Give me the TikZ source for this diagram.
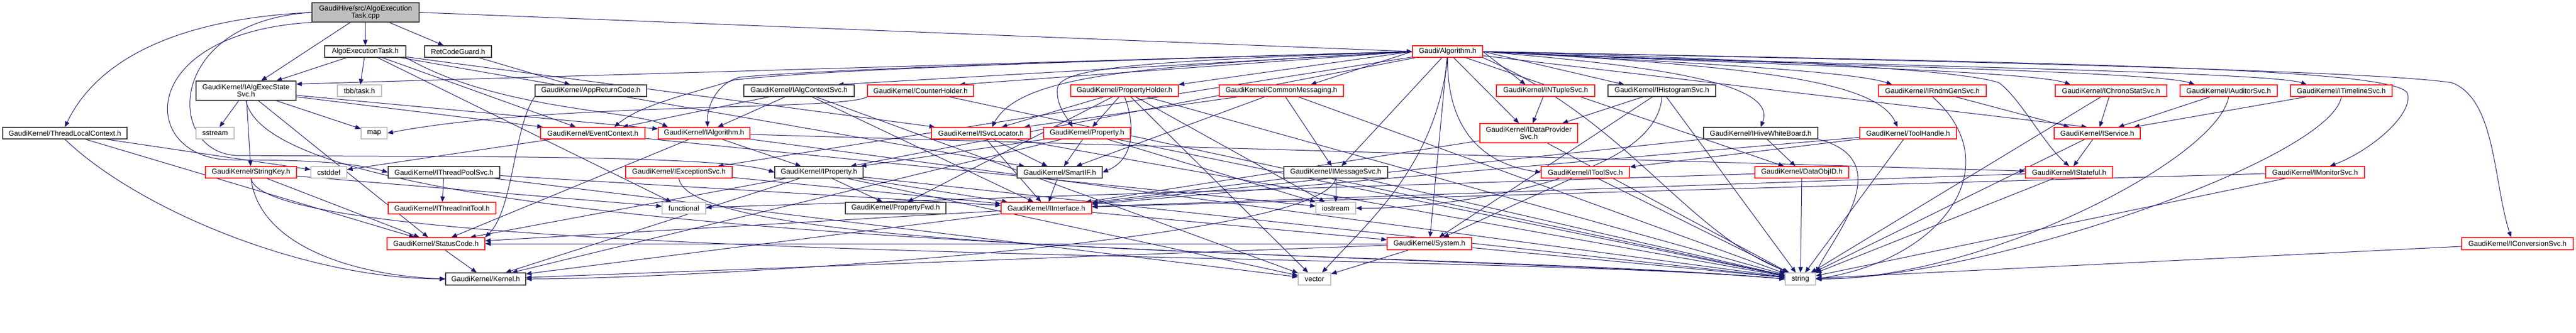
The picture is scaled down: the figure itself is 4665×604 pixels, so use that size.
\documentclass[tikz,border=0pt]{standalone}
\usepackage{fontspec}
\setmainfont{Liberation Sans}
\usetikzlibrary{arrows.meta}
\definecolor{edgec}{HTML}{191970}
\definecolor{nodegray}{HTML}{BFBFBF}
\definecolor{nodeblk}{HTML}{404040}
\definecolor{nodered}{HTML}{FF2020}
\pgfdeclarelayer{bg}
\pgfsetlayers{bg,main}
\tikzset{
  base/.style={rectangle, inner sep=0pt, line width=1.2pt, fill=white, text=black,
    font=\fontsize{13}{13}\selectfont, align=center},
  nb/.style={base, draw=nodeblk},
  nr/.style={base, draw=nodered},
  ng/.style={base, draw=nodegray},
  nroot/.style={base, draw=nodeblk, fill=nodegray},
  edg/.style={draw=edgec, line width=1pt, -{Triangle[length=10pt,width=8pt]}},
}
\newcommand\gbox[7]{\node[#2, minimum width={#4pt-#3pt}, minimum height=#6pt] (#1) at ({(#3+#4)/2}, -#5) {#7};}
\begin{document}
\begin{tikzpicture}[x=1pt,y=1pt]
\useasboundingbox (0,0) rectangle (4665,-604);
% row 0/1
\gbox{root}{nroot}{565}{759}{22.5}{35}{GaudiHive/src/AlgoExecution\\Task.cpp}
\gbox{aeth}{nb}{588}{735}{93.5}{21}{AlgoExecutionTask.h}
\gbox{rcg}{nb}{769}{890}{93.5}{21}{RetCodeGuard.h}
\gbox{galg}{nr}{2558}{2685}{93.5}{21}{Gaudi/Algorithm.h}
% row 2
\gbox{iaess}{nb}{355}{536}{164.5}{35}{GaudiKernel/IAlgExecState\\Svc.h}
\gbox{tbb}{ng}{611}{691}{164.5}{21}{tbb/task.h}
\gbox{arc}{nb}{969}{1171}{164.5}{21}{GaudiKernel/AppReturnCode.h}
\gbox{iacs}{nb}{1347}{1547}{164.5}{21}{GaudiKernel/IAlgContextSvc.h}
\gbox{ch}{nr}{1571}{1763}{164.5}{21}{GaudiKernel/CounterHolder.h}
\gbox{ph}{nr}{1939}{2134}{164.5}{21}{GaudiKernel/PropertyHolder.h}
\gbox{cm}{nr}{2208}{2433}{164.5}{21}{GaudiKernel/CommonMessaging.h}
\gbox{ints}{nr}{2710}{2888}{164.5}{21}{GaudiKernel/INTupleSvc.h}
\gbox{ihs}{nb}{2912}{3107}{164.5}{21}{GaudiKernel/IHistogramSvc.h}
\gbox{irg}{nr}{3402}{3597}{164.5}{21}{GaudiKernel/IRndmGenSvc.h}
\gbox{ics}{nr}{3722}{3924}{164.5}{21}{GaudiKernel/IChronoStatSvc.h}
\gbox{ias}{nr}{3948}{4124}{164.5}{21}{GaudiKernel/IAuditorSvc.h}
\gbox{its}{nr}{4148}{4332}{164.5}{21}{GaudiKernel/ITimelineSvc.h}
% row 3
\gbox{tlc}{nb}{5}{230}{241.5}{21}{GaudiKernel/ThreadLocalContext.h}
\gbox{sstr}{ng}{355}{424}{241.5}{21}{sstream}
\gbox{map}{ng}{654}{701}{241.5}{21}{map}
\gbox{ec}{nr}{979}{1168}{241.5}{21}{GaudiKernel/EventContext.h}
\gbox{ialg}{nr}{1192}{1358}{241.5}{21}{GaudiKernel/IAlgorithm.h}
\gbox{isl}{nr}{1687}{1866}{241.5}{21}{GaudiKernel/ISvcLocator.h}
\gbox{prop}{nr}{1890}{2047}{241.5}{21}{GaudiKernel/Property.h}
\gbox{idps}{nr}{2680}{2857}{241.5}{35}{GaudiKernel/IDataProvider\\Svc.h}
\gbox{ihwb}{nb}{3085}{3292}{241.5}{21}{GaudiKernel/IHiveWhiteBoard.h}
\gbox{th}{nr}{3368}{3543}{241.5}{21}{GaudiKernel/ToolHandle.h}
\gbox{isv}{nr}{3720}{3876}{241.5}{21}{GaudiKernel/IService.h}
% row 4
\gbox{sk}{nr}{372}{537}{312.5}{21}{GaudiKernel/StringKey.h}
\gbox{cstd}{ng}{563}{628}{312.5}{21}{cstddef}
\gbox{itps}{nb}{703}{905}{312.5}{21}{GaudiKernel/IThreadPoolSvc.h}
\gbox{iexs}{nr}{1133}{1326}{312.5}{21}{GaudiKernel/IExceptionSvc.h}
\gbox{iprop}{nb}{1403}{1563}{312.5}{21}{GaudiKernel/IProperty.h}
\gbox{sif}{nb}{1842}{1996}{312.5}{21}{GaudiKernel/SmartIF.h}
\gbox{ims}{nb}{2325}{2513}{312.5}{21}{GaudiKernel/IMessageSvc.h}
\gbox{itsv}{nr}{2791}{2951}{312.5}{21}{GaudiKernel/IToolSvc.h}
\gbox{doid}{nr}{3178}{3348}{312.5}{21}{GaudiKernel/DataObjID.h}
\gbox{istf}{nr}{3668}{3826}{312.5}{21}{GaudiKernel/IStateful.h}
\gbox{imon}{nr}{4103}{4282}{312.5}{21}{GaudiKernel/IMonitorSvc.h}
% row 5
\gbox{itit}{nr}{703}{898}{377.5}{21}{GaudiKernel/IThreadInitTool.h}
\gbox{func}{ng}{1199}{1278}{377.5}{21}{functional}
\gbox{pfwd}{nb}{1531}{1713}{377.5}{21}{GaudiKernel/PropertyFwd.h}
\gbox{iif}{nr}{1813}{1977}{377.5}{21}{GaudiKernel/IInterface.h}
\gbox{iostr}{ng}{2383}{2455}{377.5}{21}{iostream}
% row 6
\gbox{sc}{nr}{701}{878}{442}{22}{GaudiKernel/StatusCode.h}
\gbox{sys}{nr}{2512}{2665}{442}{22}{GaudiKernel/System.h}
\gbox{icnv}{nr}{4458}{4660}{442}{22}{GaudiKernel/IConversionSvc.h}
% row 7
\gbox{kern}{nb}{807}{952}{506}{22}{GaudiKernel/Kernel.h}
\gbox{vec}{ng}{2351}{2410}{506}{22}{vector}
\gbox{str}{ng}{3233}{3288}{506}{22}{string}

\begin{pgfonlayer}{bg}
\fill[white] (0,0) rectangle (4665,-604);
% root
\draw[edg] (root) -- (aeth);
\draw[edg] (root) -- (rcg);
\draw[edg] (root.east) -- (galg.west);
\draw[edg] (root) -- (iaess);
\draw[edg] (root.west) .. controls (300,-35) and (170,-120) .. (tlc.north);
\draw[edg] (root.south west) .. controls (240,-60) and (250,-290) .. (420,-290) .. controls (560,-290) and (640,-295) .. (itps.west);
\draw[edg] (root.west) .. controls (290,-40) and (300,-290) .. (440,-282) .. controls (800,-285) and (1300,-280) .. (iprop.west);
% AlgoExecutionTask.h
\draw[edg] (aeth) -- (iaess);
\draw[edg] (aeth) -- (tbb);
\draw[edg] (aeth) -- (ec);
\draw[edg] (aeth.south east) .. controls (900,-200) and (1150,-200) .. ([xshift=18pt]ialg.north west);
\draw[edg] (aeth) -- (isl);
\draw[edg] (aeth) -- (sif);
\draw[edg] (aeth) -- (func);
% RetCodeGuard / AppReturnCode
\draw[edg] (rcg) -- (arc);
\draw[edg] (arc.south west) .. controls (930,-230) and (930,-380) .. (sc.north east);
% IAlgExecStateSvc
\draw[edg] (iaess) -- (sstr);
\draw[edg] (iaess) -- (map);
\draw[edg] (iaess) -- (sk);
\draw[edg] (iaess) -- (ec);
\draw[edg] (iaess) -- (sc);
\draw[edg] (iaess) -- (ialg);
\draw[edg] (iaess.south) .. controls (500,-460) and (2640,-454) .. (str.west);
% ThreadLocalContext
\draw[edg] (tlc.south) .. controls (250,-380) and (550,-505) .. (kern.west);
\draw[edg] (tlc) -- (cstd);
\draw[edg] (tlc) -- (sc);
% StringKey
\draw[edg] (sk) -- (sc);
\draw[edg] (sk.south) .. controls (470,-450) and (650,-500) .. (kern.west);
\draw[edg] (sk.south) .. controls (480,-480) and (2640,-454) .. (str.west);
\draw[edg] (sk) -- (func);
% IThreadPoolSvc
\draw[edg] (itps) -- (itit);
\draw[edg] (itps) -- (iif);
\draw[edg] (itps) -- (vec);
% EventContext
\draw[edg] (ec) -- (cstd);
\draw[edg] (ec) -- (iostr);
% IAlgorithm
\draw[edg] (ialg) -- (sc);
\draw[edg] (ialg) -- (iprop);
\draw[edg] (ialg) -- (istf);
\draw[edg] (ialg) -- (str);
% IAlgContextSvc
\draw[edg] (iacs) -- (ec);
\draw[edg] (iacs) -- (ialg);
\draw[edg] (iacs) -- (iif);
\draw[edg] (iacs) -- (vec);
% CounterHolder
\draw[edg] (ch.south west) .. controls (1531,-201) and (996,-185) .. (map.east);
\draw[edg] (ch) -- (str);
% PropertyHolder
\draw[edg] (ph) -- (isl);
\draw[edg] (ph) -- (prop);
\draw[edg] (ph) -- (pfwd);
\draw[edg] (ph.south) .. controls (2055,-224) and (2057,-288) .. (sif.east);
\draw[edg] (ph) -- (str);
\draw[edg] (ph) -- (vec);
\draw[edg] (ph) -- (iostr);
% CommonMessaging
\draw[edg] (cm) -- (ims);
\draw[edg] (cm) -- (isl);
\draw[edg] (cm) -- (sif);
\draw[edg] (cm) -- (str);
% Gaudi/Algorithm.h
\draw[edg] (galg.west) -- ([yshift=12pt]iaess.east);
\draw[edg] (galg.west) -- ([xshift=-30pt]iacs.north east);
\draw[edg] (galg.west) -- ([xshift=-26pt]ch.north east);
\draw[edg] (galg.west) -- (ph.north east);
\draw[edg] (galg.west) -- ([xshift=-60pt]cm.north east);
\draw[edg] (galg.east) -- ([xshift=53pt]ints.north west);
\draw[edg] (galg.east) -- ([xshift=30pt]ihs.north west);
\draw[edg] (galg.east) .. controls (2985,-110) and (3350,-127) .. ([xshift=25pt]irg.north west);
\draw[edg] (galg.east) .. controls (3085,-114) and (3675,-127) .. ([xshift=28pt]ics.north west);
\draw[edg] (galg.east) .. controls (3085,-114) and (3900,-127) .. ([xshift=27pt]ias.north west);
\draw[edg] (galg.east) .. controls (3085,-114) and (4103,-127) .. ([xshift=30pt]its.north west);
\draw[edg] (galg.west) .. controls (2000,-110) and (1500,-125) .. (1330,-145) .. controls (1250,-170) and (1160,-190) .. ([xshift=134pt]ec.north west);
\draw[edg] (galg.west) .. controls (2000,-110) and (1500,-125) .. (1340,-140) .. controls (1300,-150) and (1280,-190) .. ([xshift=90pt]ialg.north west);
\draw[edg] (galg.west) .. controls (2100,-120) and (1850,-130) .. ([xshift=110pt]isl.north west);
\draw[edg] (galg.west) .. controls (2100,-110) and (1920,-120) .. (1915,-160) .. controls (1912,-190) and (1930,-210) .. ([xshift=53pt]prop.north west);
\draw[edg] (galg) -- (idps);
\draw[edg] (galg.east) .. controls (3000,-120) and (3220,-150) .. (ihwb.north);
\draw[edg] (galg.east) .. controls (3200,-120) and (3400,-150) .. ([xshift=69pt]th.north west);
\draw[edg] (galg) -- ([xshift=60pt]isv.north west);
\draw[edg] (galg) -- (iexs);
\draw[edg] (galg) -- (iprop);
\draw[edg] (galg) -- (ims);
\draw[edg] (galg.south) .. controls (2620,-250) and (2700,-300) .. (itsv.west);
\draw[edg] (galg) -- (doid);
\draw[edg] (galg.east) .. controls (3300,-110) and (3560,-130) .. (3620,-150) .. controls (3660,-180) and (3700,-260) .. (istf.north);
\draw[edg] (galg.east) .. controls (3800,-115) and (4345,-125) .. (4360,-170) .. controls (4370,-205) and (4300,-270) .. ([xshift=117pt]imon.north west);
\draw[edg] (galg.east) .. controls (3500,-110) and (4300,-128) .. (4440,-150) .. controls (4520,-180) and (4515,-330) .. ([xshift=90pt]icnv.north west);
\draw[edg] (galg) -- (sys);
\draw[edg] (galg.south) .. controls (2600,-300) and (2480,-400) .. ([xshift=44pt]vec.north west);
\draw[edg] (galg.south east) .. controls (2950,-220) and (3050,-420) .. ([xshift=8pt]str.north west);
% INTupleSvc / IHistogramSvc
\draw[edg] (ints) -- (idps);
\draw[edg] (ihs) -- ([xshift=150pt]idps.north west);
\draw[edg] (ihs.south) .. controls (3000,-330) and (2600,-380) .. (iostr.east);
\draw[edg] (ihs) -- (sys);
\draw[edg] (ihs) -- (str);
% IRndmGenSvc, IChronoStatSvc, IAuditorSvc, ITimelineSvc
\draw[edg] (irg) -- ([xshift=28pt]isv.north west);
\draw[edg] (irg.south) .. controls (3640,-300) and (3520,-470) .. (str.east);
\draw[edg] (ics) -- ([xshift=83pt]isv.north west);
\draw[edg] (ics) -- (str);
\draw[edg] (ias) -- ([xshift=117pt]isv.north west);
\draw[edg] (ias.south) .. controls (4015,-290) and (3590,-506) .. (str.east);
\draw[edg] (its) -- ([xshift=145pt]isv.north west);
\draw[edg] (its.south) .. controls (4220,-290) and (3590,-506) .. (str.east);
% IService, IStateful, IMonitorSvc, IConversionSvc
\draw[edg] (isv) -- (istf);
\draw[edg] (isv) -- (str);
\draw[edg] (istf) -- (str);
\draw[edg] (istf) -- (iif);
\draw[edg] (imon) -- (str);
\draw[edg] (imon) -- (iif);
\draw[edg] (icnv) -- (str);
% ToolHandle, IHiveWhiteBoard, DataObjID, IDataProviderSvc, IToolSvc
\draw[edg] (th) -- (itsv);
\draw[edg] (th) -- (str);
\draw[edg] (th) -- (iif);
\draw[edg] (ihwb) -- (doid);
\draw[edg] (ihwb.south east) .. controls (3440,-290) and (3320,-430) .. (str.north east);
\draw[edg] (ihwb) -- (iif);
\draw[edg] (doid) -- (str);
\draw[edg] (doid) -- (func);
\draw[edg] (idps) -- (iif);
\draw[edg] (idps) -- (str);
\draw[edg] (itsv) -- (str);
\draw[edg] (itsv) -- (sys);
% IMessageSvc, SmartIF, IProperty, Property
\draw[edg] (ims) -- (iostr);
\draw[edg] (ims) -- (str);
\draw[edg] (ims) -- (iif);
\draw[edg] (ims.south) .. controls (2395,-440) and (1250,-506) .. (kern.east);
\draw[edg] (sif) -- (iif);
\draw[edg] (iprop) -- (pfwd);
\draw[edg] (iprop) -- (iif);
\draw[edg] (iprop) -- (sc);
\draw[edg] (iprop) -- (str);
\draw[edg] (iprop) -- (vec);
\draw[edg] (iprop) -- (kern);
\draw[edg] (prop) -- (sif);
\draw[edg] (prop) -- (iprop);
\draw[edg] (prop) -- (iostr);
\draw[edg] (prop) -- (kern);
\draw[edg] (prop) -- (str);
% ISvcLocator, IExceptionSvc
\draw[edg] (isl) -- (iif);
\draw[edg] (isl) -- (sif);
\draw[edg] (isl) -- (str);
\draw[edg] (iexs) -- (iif);
\draw[edg] (iexs.south) .. controls (1250,-470) and (2640,-454) .. (str.west);
% IInterface, StatusCode, System
\draw[edg] (iif) -- (sc);
\draw[edg] (iif) -- (kern);
\draw[edg] (iif) -- (sys);
\draw[edg] (sc) -- (kern);
\draw[edg] (sys) -- (vec);
\draw[edg] (sys) -- (str);
\draw[edg] (sys) -- (kern);
\draw[edg] (sys) -- (sc);
\end{pgfonlayer}
\end{tikzpicture}
\end{document}
